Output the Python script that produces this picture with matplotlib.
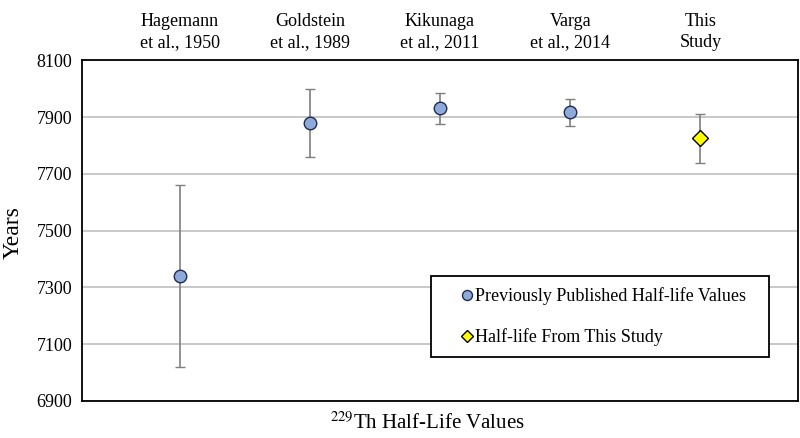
import matplotlib.pyplot as plt
from matplotlib.transforms import blended_transform_factory

# data
studies = ['Hagemann\net al., 1950', 'Goldstein\net al., 1989', 'Kikunaga\net al., 2011',
           'Varga\net al., 2014', 'This\nStudy']
prev_values = [7340, 7880, 7932, 7917]
prev_errors = [320, 120, 55, 48]
this_value = [7825]
this_error = [87]
y_ticks = [6900, 7100, 7300, 7500, 7700, 7900, 8100]

plt.rcParams['font.family'] = ['Liberation Serif', 'DejaVu Serif']

fig = plt.figure(figsize=(8, 4.38), dpi=100)
ax = fig.add_axes([0.1025, 0.0845, 0.895, 0.7775])

x_prev = list(range(1, len(prev_values) + 1))
x_this = [len(prev_values) + 1]

eb1 = ax.errorbar(x_prev, prev_values, yerr=prev_errors, fmt='o', color='#7f7f7f',
                  ecolor='#7f7f7f', elinewidth=1.2, capsize=3.5, capthick=1.2,
                  markersize=9, markerfacecolor='#8eaadb', markeredgecolor='#1f2d4d',
                  markeredgewidth=1.0, zorder=3)
eb2 = ax.errorbar(x_this, this_value, yerr=this_error, fmt='D', color='#7f7f7f',
                  ecolor='#7f7f7f', elinewidth=1.2, capsize=3.5, capthick=1.2,
                  markersize=8, markerfacecolor='#ffff00', markeredgecolor='#000000',
                  markeredgewidth=1.0, zorder=3)

ax.set_xlim(0.25, 5.75)
ax.set_ylim(6900, 8100)
ax.set_yticks(y_ticks)
ax.set_xticks([])
ax.tick_params(axis='y', length=0, pad=7, labelsize=13)
ax.yaxis.grid(True, color='#bfbfbf', linewidth=1.2)
ax.set_axisbelow(True)
for s in ax.spines.values():
    s.set_color('black')
    s.set_linewidth(1.3)

# study names above the plot
trans = blended_transform_factory(ax.transData, fig.transFigure)
for i, name in enumerate(studies):
    ax.text(i + 1, 0.927, name, transform=trans, ha='center', va='center',
            fontsize=13, linespacing=1.25)

fig.text(0.016, 0.468, 'Years', rotation=90, ha='center', va='center', fontsize=17)
fig.text(0.534, 0.034, '$^{229}$Th Half-Life Values', ha='center', va='center',
         fontsize=15, math_fontfamily='stix')

leg = ax.legend([eb1[0], eb2[0]],
                ['Previously Published Half-life Values', 'Half-life From This Study'],
                loc='upper left', bbox_to_anchor=(0.539, 0.1855, 0.4225, 0.1835),
                bbox_transform=fig.transFigure, mode='expand', fontsize=13,
                frameon=True, fancybox=False, framealpha=1, edgecolor='black',
                borderpad=0.6, labelspacing=1.3, handlelength=2.8, markerscale=0.8,
                handletextpad=-0.95, borderaxespad=0)
leg.get_frame().set_linewidth(1.3)

fig.savefig('out.png', dpi=100)
